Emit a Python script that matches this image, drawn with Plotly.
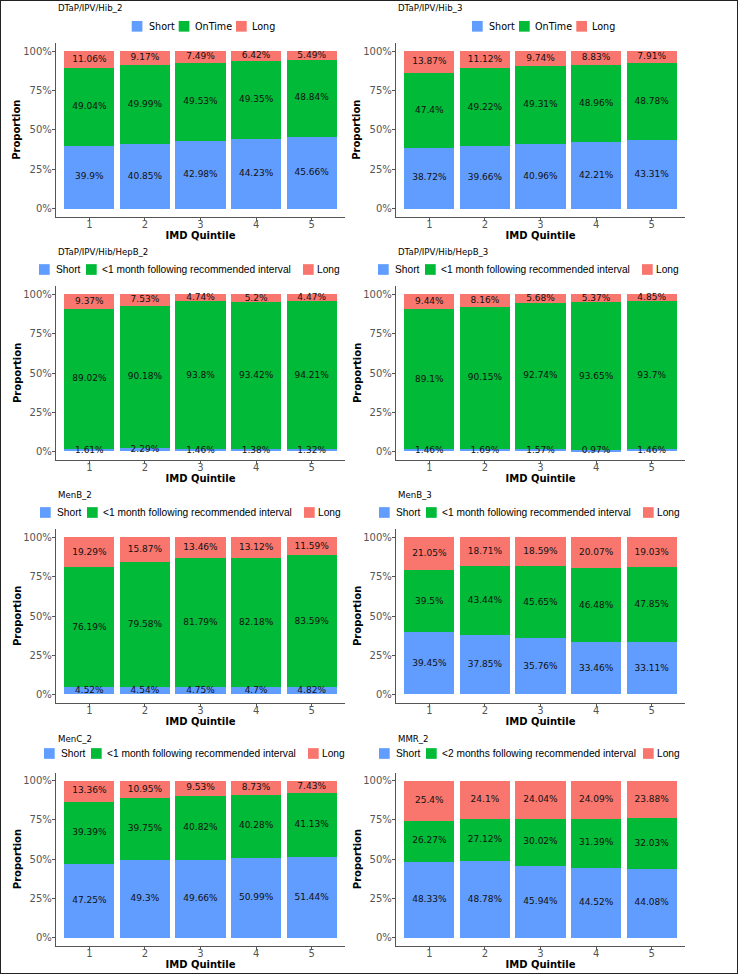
import plotly.graph_objects as go

W, H = 738, 974

# ---------------- data ----------------
quintiles = [1, 2, 3, 4, 5]
x_tick_labels = ["1", "2", "3", "4", "5"]
y_tick_values = [0, 0.25, 0.5, 0.75, 1.0]
y_tick_labels = ["0%", "25%", "50%", "75%", "100%"]

panel_titles = ["DTaP/IPV/Hib_2", "DTaP/IPV/Hib_3",
                "DTaP/IPV/Hib/HepB_2", "DTaP/IPV/Hib/HepB_3",
                "MenB_2", "MenB_3", "MenC_2", "MMR_2"]

short_names = ["Short"] * 8
middle_names = ["OnTime", "OnTime",
                "<1 month following recommended interval",
                "<1 month following recommended interval",
                "<1 month following recommended interval",
                "<1 month following recommended interval",
                "<1 month following recommended interval",
                "<2 months following recommended interval"]
long_names = ["Long"] * 8

dtap_hib_2_short = [39.9, 40.85, 42.98, 44.23, 45.66]
dtap_hib_2_ontime = [49.04, 49.99, 49.53, 49.35, 48.84]
dtap_hib_2_long = [11.06, 9.17, 7.49, 6.42, 5.49]

dtap_hib_3_short = [38.72, 39.66, 40.96, 42.21, 43.31]
dtap_hib_3_ontime = [47.4, 49.22, 49.31, 48.96, 48.78]
dtap_hib_3_long = [13.87, 11.12, 9.74, 8.83, 7.91]

dtap_hepb_2_short = [1.61, 2.29, 1.46, 1.38, 1.32]
dtap_hepb_2_ontime = [89.02, 90.18, 93.8, 93.42, 94.21]
dtap_hepb_2_long = [9.37, 7.53, 4.74, 5.2, 4.47]

dtap_hepb_3_short = [1.46, 1.69, 1.57, 0.97, 1.46]
dtap_hepb_3_ontime = [89.1, 90.15, 92.74, 93.65, 93.7]
dtap_hepb_3_long = [9.44, 8.16, 5.68, 5.37, 4.85]

menb_2_short = [4.52, 4.54, 4.75, 4.7, 4.82]
menb_2_ontime = [76.19, 79.58, 81.79, 82.18, 83.59]
menb_2_long = [19.29, 15.87, 13.46, 13.12, 11.59]

menb_3_short = [39.45, 37.85, 35.76, 33.46, 33.11]
menb_3_ontime = [39.5, 43.44, 45.65, 46.48, 47.85]
menb_3_long = [21.05, 18.71, 18.59, 20.07, 19.03]

menc_2_short = [47.25, 49.3, 49.66, 50.99, 51.44]
menc_2_ontime = [39.39, 39.75, 40.82, 40.28, 41.13]
menc_2_long = [13.36, 10.95, 9.53, 8.73, 7.43]

mmr_2_short = [48.33, 48.78, 45.94, 44.52, 44.08]
mmr_2_ontime = [26.27, 27.12, 30.02, 31.39, 32.03]
mmr_2_long = [25.4, 24.1, 24.04, 24.09, 23.88]

short_series = [dtap_hib_2_short, dtap_hib_3_short, dtap_hepb_2_short, dtap_hepb_3_short,
                menb_2_short, menb_3_short, menc_2_short, mmr_2_short]
ontime_series = [dtap_hib_2_ontime, dtap_hib_3_ontime, dtap_hepb_2_ontime, dtap_hepb_3_ontime,
                 menb_2_ontime, menb_3_ontime, menc_2_ontime, mmr_2_ontime]
long_series = [dtap_hib_2_long, dtap_hib_3_long, dtap_hepb_2_long, dtap_hepb_3_long,
               menb_2_long, menb_3_long, menc_2_long, mmr_2_long]

# ---------------- styling / geometry ----------------
COL_SHORT = "#619CFF"
COL_MID = "#00BA38"
COL_LONG = "#F8766D"
AXIS_COL = "#555555"
TICK_TXT = "#555555"
BASE_FONT = "DejaVu Sans"
LEG2_FONT = "Liberation Sans, Arial, sans-serif"

col_left = [56, 396]
col_right = [345, 685]
row_zero = [208.7, 451.7, 694.7, 937.7]
row_hundred = [51.0, 294.3, 537.3, 780.7]
title_y = [8.5, 251.5, 495.0, 738.5]
legend_y = [26.3, 269.5, 512.5, 753.5]
legend_start = [131.7, 472.0, 39.0, 378.0, 40.0, 379.0, 44.0, 379.0]
legA_sq = [0, 47, 104.3]
legA_tx = [15, 61, 118.3]
legB_sq = [0, 47, 264]
legB_tx = [15, 61, 276]
SQ = 10.7
YTITLE_OFFSET = 39  # px left of the y axis line


def px_x(p):
    return p / W


def px_y(p):
    return 1 - p / H


fig = go.Figure()
shapes = []
annotations = []
layout_axes = {}

for i in range(8):
    r, c = divmod(i, 2)
    n = "" if i == 0 else str(i + 1)
    xa, ya = "x" + n, "y" + n
    series = [(short_series[i], COL_SHORT), (ontime_series[i], COL_MID), (long_series[i], COL_LONG)]
    base = [0.0] * 5
    for vals, col in series:
        fracs = [v / 100 for v in vals]
        fig.add_trace(go.Bar(x=quintiles, y=fracs, width=0.9, marker=dict(color=col, line=dict(width=0)),
                             xaxis=xa, yaxis=ya, showlegend=False, hoverinfo="skip"))
        centers = [b + f / 2 for b, f in zip(base, fracs)]
        fig.add_trace(go.Scatter(x=quintiles, y=centers, mode="text",
                                 text=[f"{v:g}%" for v in vals],
                                 textfont=dict(family=BASE_FONT, size=9, color="#111111"),
                                 xaxis=xa, yaxis=ya, showlegend=False, hoverinfo="skip",
                                 cliponaxis=False))
        base = [b + f for b, f in zip(base, fracs)]

    z, h = row_zero[r], row_hundred[r]
    span = z - h
    top_px = h - 0.05 * span
    bot_px = z + 0.05 * span
    layout_axes["xaxis" + n] = dict(
        domain=[px_x(col_left[c]), px_x(col_right[c])], anchor=ya, range=[0.4, 5.6],
        tickmode="array", tickvals=quintiles, ticktext=x_tick_labels,
        showline=True, linecolor=AXIS_COL, linewidth=1.3, ticks="outside", ticklen=3,
        tickwidth=1, tickcolor=AXIS_COL, showgrid=False, zeroline=False,
        ticklabelstandoff=-5,
        tickfont=dict(family=BASE_FONT, size=10, color=TICK_TXT),
        title=dict(text="IMD Quintile", standoff=1,
                   font=dict(family=BASE_FONT, size=10, color="black", weight="bold")),
        fixedrange=True)
    layout_axes["yaxis" + n] = dict(
        domain=[px_y(bot_px), px_y(top_px)], anchor=xa, range=[-0.05, 1.05],
        tickmode="array", tickvals=y_tick_values, ticktext=y_tick_labels,
        showline=True, linecolor=AXIS_COL, linewidth=1.3, ticks="outside", ticklen=3,
        tickwidth=1, tickcolor=AXIS_COL, showgrid=False, zeroline=False,
        ticklabelstandoff=-2,
        tickfont=dict(family=BASE_FONT, size=10, color=TICK_TXT),
        fixedrange=True)

    # y axis title
    annotations.append(dict(text="<b>Proportion</b>", x=px_x(col_left[c] - YTITLE_OFFSET),
                            y=px_y((top_px + bot_px) / 2), xref="paper", yref="paper",
                            xanchor="center", yanchor="middle", textangle=-90, showarrow=False,
                            font=dict(family=BASE_FONT, size=10, color="black")))

    # panel title
    annotations.append(dict(text=panel_titles[i], x=px_x(col_left[c]), y=px_y(title_y[r]),
                            xref="paper", yref="paper", xanchor="left", yanchor="middle",
                            showarrow=False, font=dict(family=BASE_FONT, size=8.6, color="black")))

    # legend
    names = [short_names[i], middle_names[i], long_names[i]]
    cols = [COL_SHORT, COL_MID, COL_LONG]
    if r == 0:
        sq_off, tx_off, lfont, lsize = legA_sq, legA_tx, BASE_FONT, 9.6
    else:
        sq_off, tx_off, lfont, lsize = legB_sq, legB_tx, LEG2_FONT, 10.2
    x0 = legend_start[i]
    cy = legend_y[r]
    for k in range(3):
        sx = x0 + sq_off[k]
        shapes.append(dict(type="rect", xref="paper", yref="paper",
                           x0=px_x(sx), x1=px_x(sx + SQ),
                           y0=px_y(cy + SQ / 2), y1=px_y(cy - SQ / 2),
                           fillcolor=cols[k], line=dict(width=0)))
        annotations.append(dict(text=names[k], x=px_x(x0 + tx_off[k]), y=px_y(cy),
                                xref="paper", yref="paper", xanchor="left", yanchor="middle",
                                showarrow=False, font=dict(family=lfont, size=lsize, color="black")))

# outer frame
shapes.append(dict(type="rect", xref="paper", yref="paper", x0=0, x1=1, y0=0, y1=1,
                   line=dict(color="#222222", width=2), fillcolor="rgba(0,0,0,0)"))

fig.update_layout(
    width=W, height=H,
    margin=dict(l=0, r=0, t=0, b=0),
    paper_bgcolor="white", plot_bgcolor="white",
    barmode="stack", bargap=0,
    showlegend=False,
    shapes=shapes, annotations=annotations,
    font=dict(family=BASE_FONT),
    **layout_axes,
)

fig.write_html(
    "out.html",
    config={"displayModeBar": False},
    post_script="document.documentElement.style.margin='0';document.body.style.margin='0';"
                "document.body.style.padding='0';document.body.style.overflow='hidden';",
)
